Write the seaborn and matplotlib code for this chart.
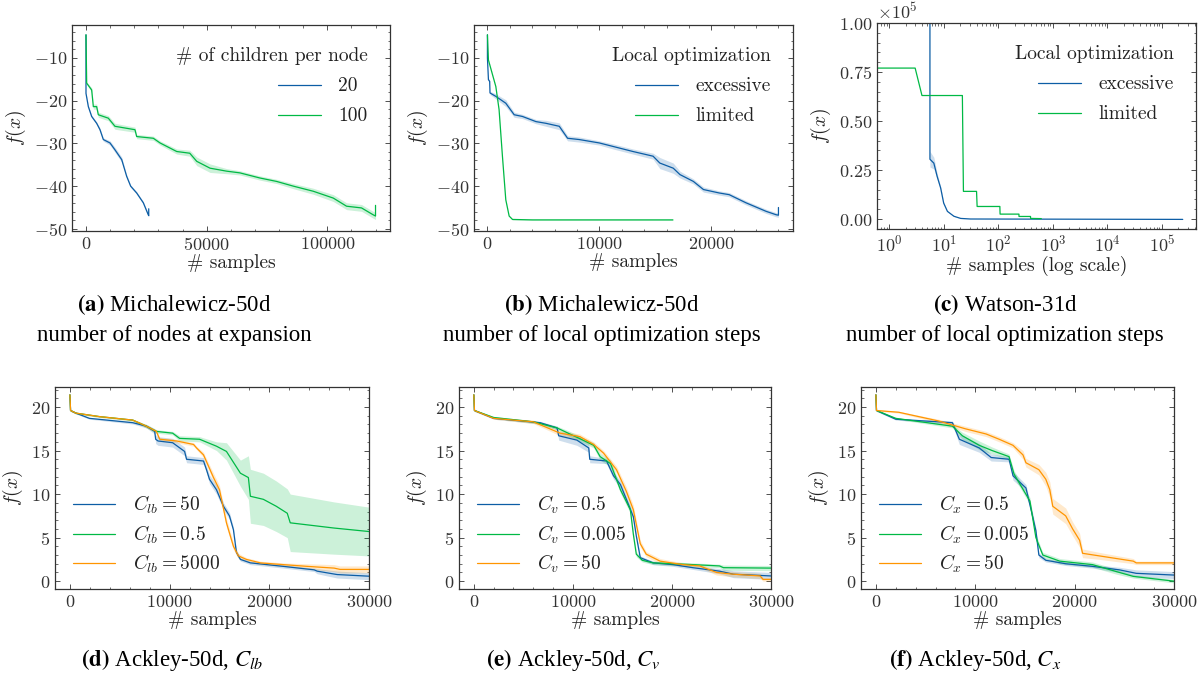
import numpy as np
import pandas as pd
import matplotlib
matplotlib.use("Agg")
import matplotlib.pyplot as plt
import seaborn as sns
from matplotlib.ticker import AutoMinorLocator, ScalarFormatter, LogLocator

# ---------------- data ----------------
# (a) Michalewicz-50d, number of children per node
a_x20 = [0, 0, 970, 2350, 4420, 5800, 7180, 9950, 12000, 14800, 16850, 18500, 21000, 23760, 25800, 26000, 26000]
a_y20 = [-4.6, -18.3, -21.4, -23.7, -25.3, -26.8, -29.1, -29.9, -31.5, -33.8, -37.7, -40.0, -41.6, -43.9, -46.7, -46.9, -45.3]
a_e20 = [0, 0.2, 0.3, 0.3, 0.3, 0.4, 0.4, 0.5, 0.6, 0.6, 0.4, 0.3, 0.3, 0.3, 0.3, 0.3, 0.3]
a_x100 = [0, 280, 2350, 3040, 4420, 5100, 9250, 12000, 20300, 21000, 27900, 30700, 37600, 43000, 45900,
          51400, 58300, 63800, 72100, 79000, 85900, 94200, 102500, 108000, 114200, 119000, 120000, 120000]
a_y100 = [-4.6, -15.9, -17.5, -21.4, -21.4, -23.3, -24.1, -26.0, -26.8, -28.4, -28.8, -29.9, -31.9, -32.3, -34.2,
          -35.8, -36.5, -36.9, -38.1, -38.9, -40.0, -41.2, -42.8, -44.7, -45.1, -46.7, -47.0, -44.5]
a_e100 = [0, 0.3, 0.5, 0.6, 0.6, 0.6, 0.6, 0.7, 0.6, 0.5, 0.5, 0.5, 0.6, 0.7, 1.0,
          1.0, 0.6, 0.5, 0.5, 0.5, 0.6, 0.7, 0.8, 0.8, 0.8, 0.8, 0.8, 0.8]

# (b) Michalewicz-50d, local optimization steps
b_x_exc = [0, 0, 90, 200, 230, 750, 1640, 2390, 3130, 4330, 5220, 6420, 7160, 8200, 10000, 11200, 13000,
           14800, 15400, 16600, 17200, 18400, 19300, 20700, 21600, 23100, 24900, 25800, 26000, 26000]
b_y_exc = [-4.6, -10.0, -15.1, -15.5, -18.2, -19.0, -20.6, -23.3, -23.7, -24.9, -25.3, -26.0, -28.8, -29.1, -29.9,
           -30.7, -31.9, -33.0, -34.6, -35.8, -37.3, -38.9, -40.8, -41.6, -42.0, -43.9, -45.9, -46.7, -46.8, -45.0]
b_e_exc = [0, 0.2, 0.3, 0.3, 0.4, 0.6, 0.8, 0.6, 0.5, 0.5, 0.7, 0.8, 0.6, 0.6, 0.5, 0.6, 0.6,
           0.7, 1.3, 1.2, 0.8, 0.6, 0.6, 0.5, 0.5, 0.5, 0.5, 0.5, 0.5, 0.5]
b_x_lim = [0, 90, 750, 1040, 1340, 1640, 1940, 2240, 4000, 16570]
b_y_lim = [-4.6, -10.5, -16.7, -22.1, -33.0, -43.2, -47.0, -47.8, -47.9, -47.9]
b_e_lim = [0, 0.1, 0.1, 0.1, 0.1, 0.1, 0.1, 0.1, 0.1, 0.1]

# (c) Watson-31d (values in f(x), log-scale samples)
c_x_exc = [5.6, 5.6, 6.6, 7.6, 8.8, 10, 11.7, 15.4, 20.5, 31, 240000]
c_y_exc = [300000, 30500, 28500, 21700, 15800, 8100, 3900, 1400, 300, 0, -200]
c_e_exc = [0, 4000, 3000, 1500, 800, 500, 200, 100, 50, 0, 0]
c_x_lim = [0.6, 3, 4, 22, 23, 40, 41, 107, 108, 239, 240, 390, 391, 615]
c_y_lim = [77000, 77000, 63000, 63000, 14100, 14100, 6400, 6400, 2500, 2500, 1300, 1300, 300, 200]
c_e_lim = [0, 0, 0, 0, 100, 100, 100, 100, 100, 100, 50, 50, 0, 0]

# (d) Ackley-50d, C_lb
d_x_50 = [0, 60, 600, 1950, 6300, 7660, 8500, 8600, 8830, 10300, 11500, 11700, 13400, 13700, 14000, 14700,
          15400, 16000, 16400, 16700, 17100, 18100, 19750, 21400, 24500, 24800, 26800, 30000]
d_y_50 = [21.4, 19.6, 19.3, 18.7, 18.2, 17.8, 17.2, 16.3, 16.1, 15.9, 14.9, 14.0, 13.8, 12.8, 11.7, 10.5,
          8.6, 7.5, 5.9, 3.3, 2.5, 2.1, 1.9, 1.7, 1.3, 1.15, 0.76, 0.57]
d_e_50 = [0, 0.1, 0.1, 0.1, 0.15, 0.2, 0.3, 0.5, 0.5, 0.5, 0.5, 0.4, 0.4, 0.4, 0.5, 0.5,
          0.4, 0.4, 0.3, 0.3, 0.2, 0.2, 0.2, 0.2, 0.2, 0.3, 0.4, 0.4]
d_x_05 = [0, 60, 600, 2960, 6300, 7660, 8670, 10300, 11000, 13000, 14700, 15700, 17100, 17900, 18100,
          19400, 20700, 21800, 22100, 26500, 30000]
d_y_05 = [21.4, 19.6, 19.3, 18.9, 18.5, 17.8, 17.2, 17.0, 16.4, 16.3, 15.5, 14.9, 12.4, 11.9, 9.75,
          9.4, 8.6, 7.8, 6.7, 6.1, 5.7]
d_e_05 = [0, 0.1, 0.1, 0.1, 0.1, 0.2, 0.2, 0.2, 0.3, 0.3, 0.5, 1.0, 1.5, 2.5, 3.1,
          3.0, 2.9, 2.8, 3.3, 3.0, 2.8]
d_x_5000 = [0, 60, 600, 2960, 6300, 7660, 8670, 9000, 10700, 12400, 12700, 13400, 13900, 14400, 15000,
            15700, 16400, 16900, 17700, 19100, 21400, 23800, 26500, 27100, 30000]
d_y_5000 = [21.4, 19.6, 19.3, 18.9, 18.5, 17.8, 17.2, 16.3, 16.1, 15.7, 15.3, 14.5, 13.2, 11.9, 10.5,
            6.7, 4.0, 2.9, 2.5, 2.1, 1.9, 1.7, 1.5, 1.35, 1.35]
d_e_5000 = [0, 0.1, 0.1, 0.1, 0.1, 0.2, 0.2, 0.2, 0.2, 0.2, 0.2, 0.3, 0.4, 0.5, 0.5,
            0.5, 0.4, 0.3, 0.2, 0.2, 0.2, 0.3, 0.4, 0.4, 0.4]

# (e) Ackley-50d, C_v
e_x_05 = [0, 60, 2000, 6700, 8400, 8560, 10400, 11600, 11700, 13400, 14100, 14800, 15400, 16100, 16400,
          16800, 18100, 20100, 22100, 24800, 26200, 30000]
e_y_05 = [21.4, 19.6, 18.7, 18.2, 17.6, 16.7, 16.2, 15.3, 14.0, 13.8, 12.1, 11.1, 9.4, 7.4, 5.2,
          2.7, 2.1, 1.9, 1.55, 1.15, 0.8, 0.6]
e_e_05 = [0, 0.1, 0.1, 0.15, 0.2, 0.5, 0.6, 0.5, 0.4, 0.3, 0.4, 0.4, 0.4, 0.4, 0.3,
          0.2, 0.2, 0.2, 0.2, 0.3, 0.4, 0.4]
e_x_0005 = [0, 60, 2000, 6000, 8400, 9700, 11000, 12100, 12750, 13800, 14800, 15800, 16100, 16400, 17000,
            18100, 22100, 24800, 25200, 30000]
e_y_0005 = [21.4, 19.6, 18.8, 18.3, 17.6, 16.9, 16.2, 15.6, 14.3, 13.5, 10.5, 8.2, 5.4, 3.1, 2.4,
            2.1, 1.9, 1.75, 1.55, 1.5]
e_e_0005 = [0, 0.1, 0.1, 0.15, 0.2, 0.3, 0.3, 0.3, 0.4, 0.4, 0.4, 0.4, 0.3, 0.3, 0.2,
            0.2, 0.2, 0.2, 0.3, 0.3]
e_x_50 = [0, 60, 2000, 6000, 8700, 10700, 12100, 13100, 14400, 15400, 16100, 16800, 17400, 18800, 21100,
          22800, 24500, 26200, 28900, 29200, 30000]
e_y_50 = [21.4, 19.6, 18.7, 18.3, 17.0, 16.6, 15.7, 14.7, 12.8, 10.3, 8.2, 4.3, 3.1, 2.3, 1.9,
          1.75, 1.0, 0.8, 0.6, 0.2, 0.2]
e_e_50 = [0, 0.1, 0.1, 0.2, 0.3, 0.3, 0.3, 0.3, 0.4, 0.5, 0.5, 0.4, 0.3, 0.3, 0.2,
          0.2, 0.3, 0.3, 0.3, 0.2, 0.2]

# (f) Ackley-50d, C_x
f_x_05 = [0, 60, 2000, 7700, 8400, 10400, 11600, 13400, 13800, 15100, 15800, 16100, 16400, 17100, 19100,
          21800, 24500, 26200, 30000]
f_y_05 = [21.4, 19.6, 18.6, 18.2, 16.3, 15.3, 14.2, 14.0, 12.1, 10.7, 7.3, 5.8, 3.0, 2.4, 2.0,
          1.7, 1.3, 0.9, 0.7]
f_e_05 = [0, 0.1, 0.1, 0.2, 0.6, 0.5, 0.4, 0.3, 0.5, 0.4, 0.4, 0.3, 0.3, 0.2, 0.2,
          0.2, 0.3, 0.4, 0.4]
f_x_0005 = [0, 60, 2000, 7700, 8700, 10400, 11700, 13400, 13900, 15500, 16100, 16800, 18500, 21800, 24200,
            25900, 30000]
f_y_0005 = [21.4, 19.6, 18.7, 17.8, 16.7, 15.6, 15.0, 14.3, 12.3, 9.2, 5.0, 3.0, 2.3, 1.9, 1.1,
            0.55, 0.0]
f_e_0005 = [0, 0.1, 0.1, 0.2, 0.4, 0.5, 0.4, 0.3, 0.4, 0.4, 0.4, 0.3, 0.3, 0.3, 0.3,
            0.2, 0.2]
f_x_50 = [0, 60, 2300, 6300, 9000, 11100, 12400, 13800, 14800, 15100, 16400, 17100, 17500, 17800, 19100,
          19800, 20500, 20800, 22500, 25900, 26200, 30000]
f_y_50 = [21.4, 19.6, 19.4, 18.4, 17.5, 16.9, 16.3, 15.6, 14.5, 13.6, 12.8, 11.7, 10.5, 8.6, 7.5,
          6.0, 4.7, 3.2, 2.9, 2.3, 2.1, 2.1]
f_e_50 = [0, 0.1, 0.1, 0.2, 0.3, 0.3, 0.3, 0.3, 0.5, 0.5, 0.6, 0.8, 0.9, 0.9, 0.9,
          0.8, 0.8, 0.5, 0.4, 0.3, 0.2, 0.2]

captions = [
    (r"$\mathbf{(a)}$ Michalewicz-50d", "number of nodes at expansion"),
    (r"$\mathbf{(b)}$ Michalewicz-50d", "number of local optimization steps"),
    (r"$\mathbf{(c)}$ Watson-31d", "number of local optimization steps"),
    (r"$\mathbf{(d)}$ Ackley-50d, $C_{lb}$", None),
    (r"$\mathbf{(e)}$ Ackley-50d, $C_{v}$", None),
    (r"$\mathbf{(f)}$ Ackley-50d, $C_{x}$", None),
]

# ---------------- style ----------------
sns.set_style("ticks")
plt.rcParams.update({
    "font.family": ["cmr10"],
    "mathtext.fontset": "cm",
    "axes.formatter.use_mathtext": True,
    "axes.unicode_minus": True,
    "xtick.direction": "in",
    "ytick.direction": "in",
    "xtick.top": True,
    "ytick.right": True,
    "xtick.minor.visible": True,
    "ytick.minor.visible": True,
    "xtick.major.size": 3.5,
    "ytick.major.size": 3.5,
    "xtick.minor.size": 1.8,
    "ytick.minor.size": 1.8,
    "xtick.major.width": 0.6,
    "ytick.major.width": 0.6,
    "xtick.minor.width": 0.5,
    "ytick.minor.width": 0.5,
    "axes.linewidth": 0.9,
    "axes.edgecolor": "#333333",
    "xtick.color": "#333333",
    "ytick.color": "#333333",
    "xtick.labelsize": 13,
    "ytick.labelsize": 13,
    "axes.labelsize": 14,
    "legend.fontsize": 14,
    "legend.title_fontsize": 14,
    "text.color": "#222222",
    "axes.labelcolor": "#222222",
})

BLUE, GREEN, ORANGE = "#0C5DA5", "#00B945", "#FF9500"

fig = plt.figure(figsize=(12.02, 6.79), dpi=100)
W, H = 1202, 679

def add_ax(l, t, r, b):
    return fig.add_axes([l / W, 1 - b / H, (r - l) / W, (b - t) / H])

ax_a = add_ax(72, 25, 390, 231)
ax_b = add_ax(474, 25, 793, 231)
ax_c = add_ax(877, 23, 1196, 229)
ax_d = add_ax(55, 387, 369, 589)
ax_e = add_ax(459, 387, 771, 589)
ax_f = add_ax(861, 387, 1174, 589)


def curve(ax, x, y, e, color, label):
    df = pd.DataFrame({"x": x, "y": y})
    sns.lineplot(data=df, x="x", y="y", ax=ax, color=color, linewidth=0.9,
                 estimator=None, sort=False, label=label)
    x = np.asarray(x, float); y = np.asarray(y, float); e = np.asarray(e, float)
    ax.fill_between(x, y - e, y + e, color=color, alpha=0.2, linewidth=0)


# (a)
curve(ax_a, a_x20, a_y20, a_e20, BLUE, "20")
curve(ax_a, a_x100, a_y100, a_e100, GREEN, "100")
ax_a.set_xlim(-5800, 126000)
ax_a.set_ylim(-50.5, -2.3)
ax_a.set_xticks([0, 50000, 100000])
ax_a.set_yticks([-10, -20, -30, -40, -50])

# (b)
curve(ax_b, b_x_exc, b_y_exc, b_e_exc, BLUE, "excessive")
curve(ax_b, b_x_lim, b_y_lim, b_e_lim, GREEN, "limited")
ax_b.set_xlim(-1200, 27300)
ax_b.set_ylim(-50.5, -2.3)
ax_b.set_xticks([0, 10000, 20000])
ax_b.set_yticks([-10, -20, -30, -40, -50])

# (c)
curve(ax_c, c_x_exc, c_y_exc, c_e_exc, BLUE, "excessive")
curve(ax_c, c_x_lim, c_y_lim, c_e_lim, GREEN, "limited")
ax_c.set_xscale("log")
ax_c.set_xlim(0.6, 4.2e5)
ax_c.set_ylim(-5100, 100000)
ax_c.set_yticks([0, 25000, 50000, 75000, 100000])
fmt = ScalarFormatter(useMathText=True)
fmt.set_powerlimits((0, 0))
ax_c.yaxis.set_major_formatter(fmt)
ax_c.xaxis.set_major_locator(LogLocator(base=10, numticks=12))
ax_c.xaxis.set_minor_locator(LogLocator(base=10, subs=np.arange(2, 10), numticks=12))

# (d)-(f)
curve(ax_d, d_x_50, d_y_50, d_e_50, BLUE, r"$C_{lb} = 50$")
curve(ax_d, d_x_05, d_y_05, d_e_05, GREEN, r"$C_{lb} = 0.5$")
curve(ax_d, d_x_5000, d_y_5000, d_e_5000, ORANGE, r"$C_{lb} = 5000$")
curve(ax_e, e_x_05, e_y_05, e_e_05, BLUE, r"$C_v = 0.5$")
curve(ax_e, e_x_0005, e_y_0005, e_e_0005, GREEN, r"$C_v = 0.005$")
curve(ax_e, e_x_50, e_y_50, e_e_50, ORANGE, r"$C_v = 50$")
curve(ax_f, f_x_05, f_y_05, f_e_05, BLUE, r"$C_x = 0.5$")
curve(ax_f, f_x_0005, f_y_0005, f_e_0005, GREEN, r"$C_x = 0.005$")
curve(ax_f, f_x_50, f_y_50, f_e_50, ORANGE, r"$C_x = 50$")

for ax in (ax_d, ax_e, ax_f):
    ax.set_xlim(-1500, 30000)
    ax.set_ylim(-0.9, 22.3)
    ax.set_xticks([0, 10000, 20000, 30000])
    ax.set_yticks([0, 5, 10, 15, 20])

for ax in (ax_a, ax_b, ax_c, ax_d, ax_e, ax_f):
    ax.set_ylabel(r"$f(x)$")
    ax.set_xlabel(r"# samples", labelpad=1)
    if ax is not ax_c:
        ax.xaxis.set_minor_locator(AutoMinorLocator())
        ax.yaxis.set_minor_locator(AutoMinorLocator())
ax_c.set_xlabel("# samples (log scale)", labelpad=1)
ax_c.yaxis.set_minor_locator(AutoMinorLocator())

leg_kw = dict(frameon=False, handlelength=2.2, handletextpad=0.9, labelspacing=0.62,
              borderaxespad=0.75)
ax_a.legend(title="# of children per node", loc="upper right", alignment="right", **leg_kw)
ax_b.legend(title="Local optimization", loc="upper right", alignment="right", **leg_kw)
ax_c.legend(title="Local optimization", loc="upper right", alignment="right", **leg_kw)
for ax in (ax_d, ax_e, ax_f):
    ax.legend(loc="center left", bbox_to_anchor=(0.0, 0.27), frameon=False,
              handlelength=2.2, handletextpad=0.9, labelspacing=0.38)

# captions
cap_x = [174, 602, 1005, 172, 573, 975]
for i, (l1, l2) in enumerate(captions):
    if i < 3:
        fig.text(cap_x[i] / W, 1 - 305 / H, l1, ha="center", va="center", fontsize=16.5,
                 family="Liberation Serif", math_fontfamily="stix", color="black")
        fig.text(cap_x[i] / W, 1 - 335 / H, l2, ha="center", va="center", fontsize=16.5,
                 family="Liberation Serif", math_fontfamily="stix", color="black")
    else:
        fig.text(cap_x[i] / W, 1 - 660 / H, l1, ha="center", va="center", fontsize=16.5,
                 family="Liberation Serif", math_fontfamily="stix", color="black")

fig.savefig("out.png", dpi=100)
